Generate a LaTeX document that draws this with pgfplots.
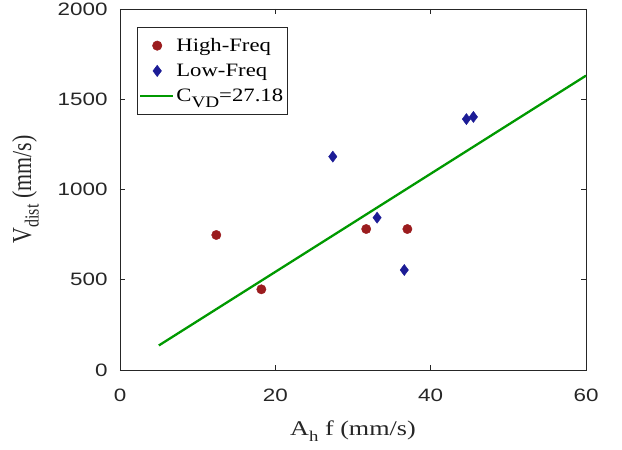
\documentclass[border=0pt]{standalone}
\usepackage{pgfplots}
\pgfplotsset{compat=1.18}
\usepackage{fontspec}
\setmainfont{Liberation Serif}[FakeStretch=1.25]
\newfontfamily\legfont{Liberation Serif}[FakeStretch=1.2]
\newfontfamily\ticksf{Liberation Sans}[FakeStretch=1.25]
\newfontfamily\yfont{Liberation Serif}
\newcommand\lsub[3]{\raisebox{-#2}{\fontsize{#1}{#1}\selectfont #3}}
\definecolor{hf}{RGB}{155,28,30}
\definecolor{lf}{RGB}{28,28,150}
\definecolor{fit}{RGB}{0,153,0}
\definecolor{axc}{RGB}{38,38,38}
\pgfplotsset{
  markleg/.style={legend image code/.code={\path[draw=none,fill=none] (0,0) -- (33bp,0);\path[##1, mark size=#1] plot[only marks] coordinates {(17bp,0)};}},
  lineleg/.style={legend image code/.code={\draw[##1] (0,0) -- (33bp,0);}},
}
\begin{document}
\begin{tikzpicture}[x=1bp,y=1bp]
\path[use as bounding box] (-120,-80) rectangle (502,370);
\begin{axis}[
  at={(0,0)}, anchor=origin,
  scale only axis, width=466bp, height=361bp,
  xmin=0, xmax=60, ymin=0, ymax=2000,
  xtick={0,20,40,60}, ytick={0,500,1000,1500,2000},
  tick align=inside, tickpos=both,
  major tick length=5bp,
  axis line style={axc, line width=0.6pt},
  every tick/.style={axc, line width=0.6pt},
  /pgf/number format/assume math mode=true,
  /pgf/number format/1000 sep={},
  ticklabel style={font=\ticksf\fontsize{18}{20}\selectfont, text=axc},
  xticklabel style={yshift=-15bp},
  yticklabel style={xshift=-9bp},
  xlabel={A\lsub{15bp}{6bp}{h} f (mm/s)},
  ylabel={\scalebox{1}[1.25]{\yfont V\lsub{16bp}{6bp}{dist} (mm/s)}},
  label style={font=\fontsize{21}{24}\selectfont, text=axc},
  xlabel style={yshift=-13bp},
  ylabel style={yshift=12bp, font=\fontsize{22}{24}\selectfont},
  legend style={at={(0.036,0.95)}, anchor=north west, draw=axc, line width=0.6pt,
    font=\legfont\fontsize{19}{21}\selectfont, row sep=7bp, inner xsep=2bp, inner ysep=9bp,
    /tikz/every even column/.append style={column sep=2bp}},
  legend cell align=left,
  clip=false,
]
\addplot[only marks, mark=*, mark size=4.7pt, color=hf, mark options={fill=hf}, markleg=4.7pt] coordinates {
  (12.4,748) (18.2,447) (31.7,781) (37.0,781)
};
\addlegendentry{High-Freq}
\addplot[only marks, mark=diamond*, mark size=5.6pt, color=lf, mark options={fill=lf}, markleg=5.6pt] coordinates {
  (27.4,1182) (33.1,844) (36.6,554) (44.6,1390) (45.5,1402)
};
\addlegendentry{Low-Freq}
\addplot[fit, line width=2.3pt, lineleg] coordinates {(5,135.9) (60,1630.8)};
\addlegendentry{C\lsub{16bp}{6bp}{VD}=27.18}
\end{axis}
\end{tikzpicture}
\end{document}
